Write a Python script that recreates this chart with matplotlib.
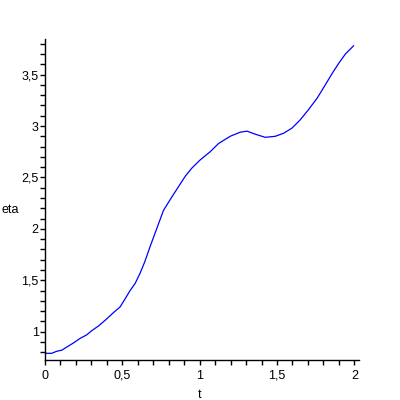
import matplotlib
matplotlib.use("Agg")
import matplotlib.pyplot as plt
from matplotlib.ticker import MultipleLocator, FuncFormatter

t_vals = [0.0, 0.043, 0.076, 0.108, 0.14, 0.183, 0.227, 0.27, 0.302, 0.345,
          0.388, 0.442, 0.485, 0.518, 0.55, 0.583, 0.615, 0.645, 0.68, 0.723,
          0.766, 0.82, 0.863, 0.906, 0.949, 1.003, 1.068, 1.122, 1.197, 1.262,
          1.306, 1.36, 1.424, 1.489, 1.543, 1.597, 1.65, 1.704, 1.759, 1.812,
          1.856, 1.899, 1.942, 1.995]
eta_vals = [0.79, 0.79, 0.81, 0.82, 0.85, 0.89, 0.935, 0.97, 1.01, 1.055,
            1.11, 1.185, 1.24, 1.32, 1.40, 1.47, 1.57, 1.68, 1.83, 2.005,
            2.18, 2.31, 2.41, 2.51, 2.59, 2.67, 2.75, 2.83, 2.90, 2.94,
            2.95, 2.92, 2.89, 2.90, 2.93, 2.98, 3.06, 3.16, 3.27, 3.40,
            3.51, 3.61, 3.70, 3.78]
x_label = "t"
y_label = "eta"

plt.rcParams['font.family'] = ['Liberation Sans', 'DejaVu Sans']

fig = plt.figure(figsize=(4, 4), dpi=100)
ax = fig.add_axes([45/400, 40/400, 314/400, 321/400])
ax.plot(t_vals, eta_vals, color=(0, 0, 1), lw=0.9)

ax.set_xlim(0, 2.03)
ax.set_ylim(0.725, 3.846)
for s in ['top', 'right']:
    ax.spines[s].set_visible(False)
for s in ['left', 'bottom']:
    ax.spines[s].set_linewidth(1.0)
    ax.spines[s].set_color('black')

fmt = FuncFormatter(lambda v, p: ('%g' % round(v, 2)).replace('.', ','))
ax.xaxis.set_major_locator(MultipleLocator(0.5))
ax.xaxis.set_minor_locator(MultipleLocator(0.1))
ax.yaxis.set_major_locator(MultipleLocator(0.5))
ax.yaxis.set_minor_locator(MultipleLocator(0.1))
ax.xaxis.set_major_formatter(fmt)
ax.yaxis.set_major_formatter(fmt)
ax.tick_params(which='both', direction='out', length=3.6, width=1.0, labelsize=9)
ax.tick_params(axis='x', pad=3.5)
ax.tick_params(axis='y', pad=1)

fig.text(0.0025, 0.475, y_label, fontsize=9, ha='left', va='center')
fig.text(0.5, 0.0125, x_label, fontsize=9, ha='center', va='center')

fig.savefig("out.png", dpi=100)
